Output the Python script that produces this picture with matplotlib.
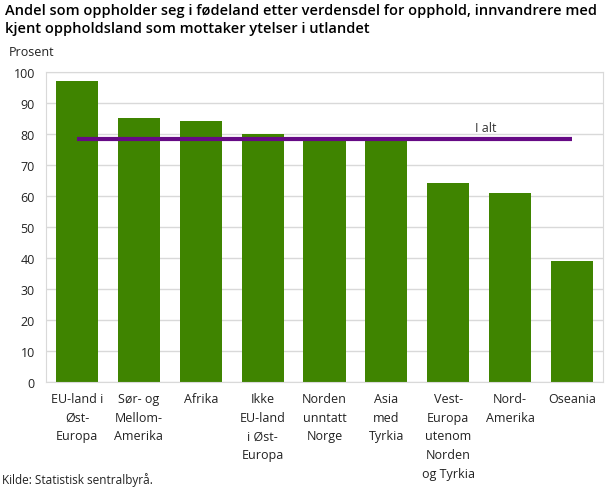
import numpy as np
import matplotlib.pyplot as plt

plt.rcParams['font.family'] = ['Open Sans', 'DejaVu Sans']

categories = ['EU-land i\nØst-\nEuropa', 'Sør- og\nMellom-\nAmerika', 'Afrika',
              'Ikke\nEU-land\ni Øst-\nEuropa', 'Norden\nunntatt\nNorge', 'Asia\nmed\nTyrkia',
              'Vest-\nEuropa\nutenom\nNorden\nog Tyrkia', 'Nord-\nAmerika', 'Oseania']
values = [97.1, 85.2, 84.2, 80.0, 79.0, 78.0, 64.3, 61.0, 39.1]
i_alt = 78.3

bar_color = '#3f8400'
line_color = '#660a85'
grid_color = '#d9d9d9'

fig = plt.figure(figsize=(6.09, 4.89), dpi=100)
ax = fig.add_axes([46 / 609, 1 - 383 / 489, 557 / 609, 310 / 489])

x = np.arange(len(categories))
ax.bar(x, values, width=0.68, color=bar_color, zorder=2)
ax.plot([x[0], x[-1]], [i_alt, i_alt], color=line_color, lw=3, zorder=3,
        solid_capstyle='butt')
ax.text(6.6, i_alt + 1.8, 'I alt', fontsize=9, color='#333333', ha='center', va='bottom')

ax.set_xlim(-0.5, len(categories) - 0.5)
ax.set_ylim(0, 100)
ax.set_yticks(np.arange(0, 101, 10))
ax.yaxis.grid(True, color=grid_color, lw=1, zorder=0)
ax.set_axisbelow(True)
for s in ax.spines.values():
    s.set_color(grid_color)
ax.tick_params(axis='both', length=0, labelsize=9, colors='#222222')
ax.tick_params(axis='y', pad=8)
ax.tick_params(axis='x', pad=7)
ax.set_xticks(x)
ax.set_xticklabels(categories, linespacing=1.58)

fig.text(5 / 609, 1 - 4 / 489,
         'Andel som oppholder seg i fødeland etter verdensdel for opphold, innvandrere med\n'
         'kjent oppholdsland som mottaker ytelser i utlandet',
         fontsize=10.5, fontweight='semibold', va='top', ha='left', linespacing=1.38)
fig.text(9 / 609, 1 - 52 / 489, 'Prosent', fontsize=9, va='center', ha='left', color='#222222')
fig.text(2 / 609, 1 - 480 / 489, 'Kilde: Statistisk sentralbyrå.', fontsize=8.5,
         va='center', ha='left', color='#222222')

fig.savefig('out.png', dpi=100)
